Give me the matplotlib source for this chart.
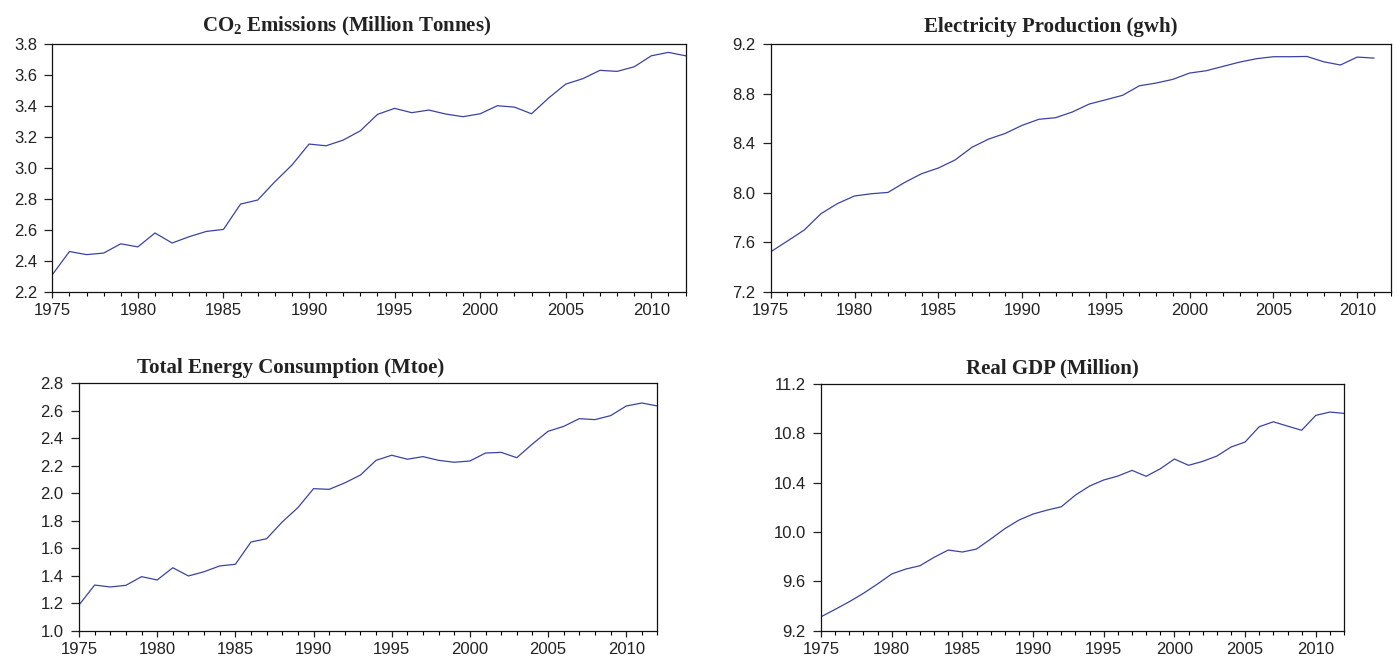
import matplotlib
matplotlib.use("Agg")
import matplotlib.pyplot as plt
from matplotlib.ticker import MultipleLocator

plt.rcParams['font.family'] = ['Liberation Sans', 'DejaVu Sans']
plt.rcParams['mathtext.fontset'] = 'custom'
plt.rcParams['mathtext.bf'] = 'Liberation Serif:bold'
plt.rcParams['mathtext.rm'] = 'Liberation Serif:bold'
plt.rcParams['mathtext.default'] = 'bf'

years = list(range(1975, 2013))
years_elec = list(range(1975, 2012))

co2 = [2.31, 2.46, 2.44, 2.45, 2.51, 2.49, 2.58, 2.515, 2.556, 2.59,
       2.603, 2.767, 2.793, 2.911, 3.019, 3.155, 3.144, 3.181, 3.241, 3.347,
       3.386, 3.358, 3.375, 3.349, 3.332, 3.351, 3.403, 3.394, 3.351, 3.453,
       3.543, 3.578, 3.632, 3.625, 3.655, 3.726, 3.748, 3.726]

elec = [7.523, 7.61, 7.699, 7.831, 7.914, 7.974, 7.992, 8.003, 8.084, 8.154,
        8.2, 8.265, 8.367, 8.434, 8.48, 8.545, 8.594, 8.607, 8.653, 8.717,
        8.752, 8.788, 8.865, 8.887, 8.917, 8.968, 8.987, 9.022, 9.057, 9.084,
        9.1, 9.1, 9.102, 9.059, 9.033, 9.097, 9.089]

energy = [1.187, 1.332, 1.318, 1.33, 1.393, 1.369, 1.458, 1.398, 1.429, 1.471,
          1.483, 1.645, 1.669, 1.791, 1.895, 2.033, 2.028, 2.075, 2.132, 2.239,
          2.276, 2.247, 2.266, 2.239, 2.225, 2.234, 2.292, 2.297, 2.258, 2.358,
          2.45, 2.486, 2.542, 2.535, 2.564, 2.634, 2.656, 2.634]

gdp = [9.313, 9.373, 9.435, 9.503, 9.579, 9.66, 9.7, 9.727, 9.795, 9.854,
       9.838, 9.862, 9.943, 10.027, 10.097, 10.146, 10.178, 10.205, 10.3, 10.373,
       10.422, 10.454, 10.5, 10.452, 10.513, 10.592, 10.541, 10.573, 10.616, 10.689,
       10.73, 10.854, 10.894, 10.859, 10.825, 10.946, 10.973, 10.962]

line_color = '#3b43a2'

fig = plt.figure(figsize=(13.97, 6.56), dpi=100)

panels = [
    # rect, x, y, title, title x, ylim, ystep, title pad
    ([0.03744, 0.5553, 0.4533, 0.3771], years, co2,
     r'CO$_2$ Emissions (Million Tonnes)', 0.465, (2.2, 3.8), 0.2, 9.0),
    ([0.5517, 0.5553, 0.4438, 0.3771], years_elec, elec,
     'Electricity Production (gwh)', 0.451, (7.2, 9.2), 0.4, 9.0),
    ([0.05655, 0.03857, 0.4141, 0.3773], years, energy,
     'Total Energy Consumption (Mtoe)', 0.366, (1.0, 2.8), 0.2, 7.5),
    ([0.5877, 0.03857, 0.3744, 0.3760], years, gdp,
     'Real GDP (Million)', 0.443, (9.2, 11.2), 0.4, 7.5),
]

for rect, x, y, title, tx, ylim, ystep, pad in panels:
    ax = fig.add_axes(rect)
    ax.plot(x, y, color=line_color, lw=0.9)
    ax.set_xlim(1975, 2012)
    ax.set_ylim(*ylim)
    ax.xaxis.set_major_locator(MultipleLocator(5))
    ax.xaxis.set_minor_locator(MultipleLocator(1))
    ax.yaxis.set_major_locator(MultipleLocator(ystep))
    ax.yaxis.set_major_formatter(plt.FormatStrFormatter('%.1f'))
    ax.tick_params(axis='y', which='major', direction='out', length=6,
                   width=0.9, pad=5, labelsize=12, colors='#222222')
    ax.tick_params(axis='x', which='major', direction='out', length=4,
                   width=0.9, pad=4, labelsize=12, colors='#222222')
    ax.tick_params(axis='x', which='minor', direction='out', length=2.8,
                   width=0.8)
    for sp in ax.spines.values():
        sp.set_linewidth(0.9)
        sp.set_color('#111111')
    ax.set_title(title, x=tx, pad=pad, fontsize=15, fontweight='bold',
                 family='Liberation Serif', color='#222222')

fig.savefig('out.png', dpi=100)
